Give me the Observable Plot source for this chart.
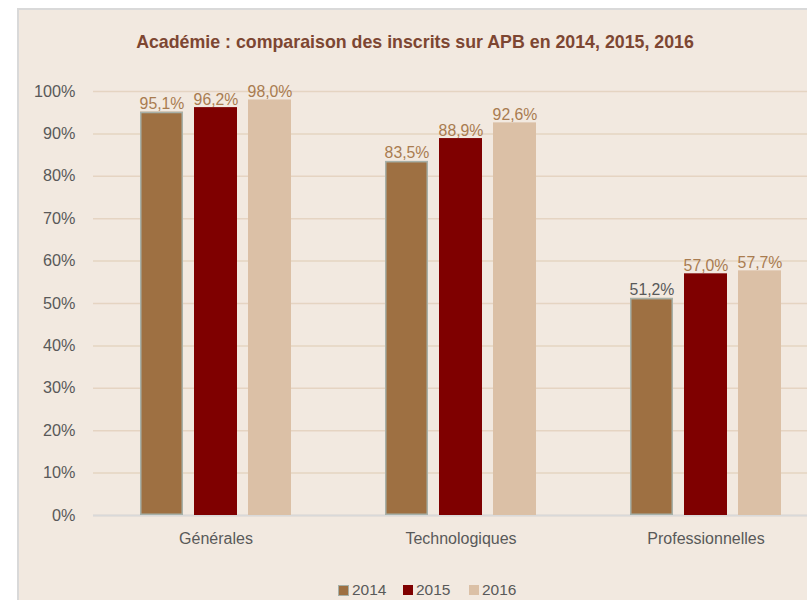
<!DOCTYPE html>
<html>
<head>
<meta charset="utf-8">
<script src="https://cdn.jsdelivr.net/npm/d3@7"></script>
<script src="https://cdn.jsdelivr.net/npm/@observablehq/plot@0.6"></script>
<style>
  html, body { margin: 0; padding: 0; background: #ffffff; overflow: hidden; width: 807px; height: 600px; }
  #panel {
    position: absolute; left: 17px; top: 8px; width: 812px; height: 620px;
    background: #F2E9E0; border-left: 2px solid #D9D9D9; border-top: 2px solid #D9D9D9;
    box-sizing: border-box; overflow: hidden;
    font-family: "Liberation Sans", Arial, sans-serif;
  }
  #title {
    width: 792px; text-align: center; padding-top: 22px; line-height: 20px; height: 20px;
    font-size: 17.8px; font-weight: bold; color: #7D4632;
  }
  #chart svg { display: block; }
  #legend {
    position: relative; height: 30px;
    font-size: 15.5px; color: #595959; white-space: nowrap;
  }
  .item { position: absolute; top: 11px; height: 18px; display: flex; align-items: center; }
  .sw { width: 10px; height: 10px; margin-right: 3px; box-sizing: border-box; }
</style>
</head>
<body>
<div id="panel">
  <div id="title">Académie : comparaison des inscrits sur APB en 2014, 2015, 2016</div>
  <div id="chart"></div>
  <div id="legend"></div>
</div>
<script>
const categories = ["Générales", "Technologiques", "Professionnelles"];
const years = ["2014", "2015", "2016"];
const values2014 = [0.951, 0.835, 0.512];
const values2015 = [0.962, 0.889, 0.570];
const values2016 = [0.980, 0.926, 0.577];
const yTicks = [0, 0.1, 0.2, 0.3, 0.4, 0.5, 0.6, 0.7, 0.8, 0.9, 1.0];

const colors = ["#9E7042", "#7F0000", "#DBC0A6"];
const series = [values2014, values2015, values2016];
const data = categories.flatMap((cat, i) =>
  years.map((year, j) => ({cat, year, value: series[j][i]})));

const fmt = v => d3.format(".1%")(v).replace(".", ",");
const font = '"Liberation Sans", Arial, sans-serif';
const isGrey = d => d.cat === "Professionnelles" && d.year === "2014";

const chart = Plot.plot({
  width: 810,
  height: 518,
  marginLeft: 73,
  marginRight: 0,
  marginTop: 39,
  marginBottom: 55,
  style: {background: "transparent", fontFamily: font, fontSize: "16px", color: "#595959", overflow: "visible"},
  fx: {domain: categories, padding: 0, label: null},
  x: {domain: years, paddingInner: 0.204, paddingOuter: 0.87, align: 0.5, axis: null},
  y: {domain: [0, 1], label: null},
  color: {domain: years, range: colors},
  marks: [
    Plot.gridY(yTicks, {stroke: "#E5D4C2", strokeOpacity: 1, strokeWidth: 1.5}),
    Plot.ruleY([0], {stroke: "#D9D9D9", strokeWidth: 2}),
    Plot.axisY(yTicks, {tickSize: 0, tickPadding: 18, tickFormat: d3.format(".0%"), fill: "#595959", fontSize: 16.2, label: null}),
    Plot.axisFx({anchor: "bottom", tickSize: 0, tickPadding: 17, fill: "#595959", fontSize: 16, label: null}),
    Plot.barY(data, {fx: "cat", x: "year", y: "value", fill: "year"}),
    Plot.barY(data, {filter: d => d.year === "2014", fx: "cat", x: "year", y: "value",
      fill: "none", stroke: "#A7B0A8", strokeWidth: 1.5, inset: 0.75}),
    Plot.text(data, {filter: d => !isGrey(d), fx: "cat", x: "year", y: "value", text: d => fmt(d.value),
      lineAnchor: "bottom", dy: -3, fill: "#A97C50", fontSize: 15.8}),
    Plot.text(data, {filter: isGrey, fx: "cat", x: "year", y: "value", text: d => fmt(d.value),
      lineAnchor: "bottom", dy: -3, fill: "#595959", fontSize: 15.8})
  ]
});
document.getElementById("chart").appendChild(chart);

// legend
const legend = document.getElementById("legend");
const lefts = [319, 384, 450];
years.forEach((y, j) => {
  const item = document.createElement("div");
  item.className = "item";
  item.style.left = lefts[j] + "px";
  const sw = document.createElement("span");
  sw.className = "sw";
  sw.style.background = colors[j];
  if (j === 0) { sw.style.border = "1.5px solid #A7B0A8"; sw.style.width = "11px"; sw.style.height = "11px"; }
  const t = document.createElement("span");
  t.textContent = y;
  item.appendChild(sw);
  item.appendChild(t);
  legend.appendChild(item);
});
</script>
</body>
</html>
